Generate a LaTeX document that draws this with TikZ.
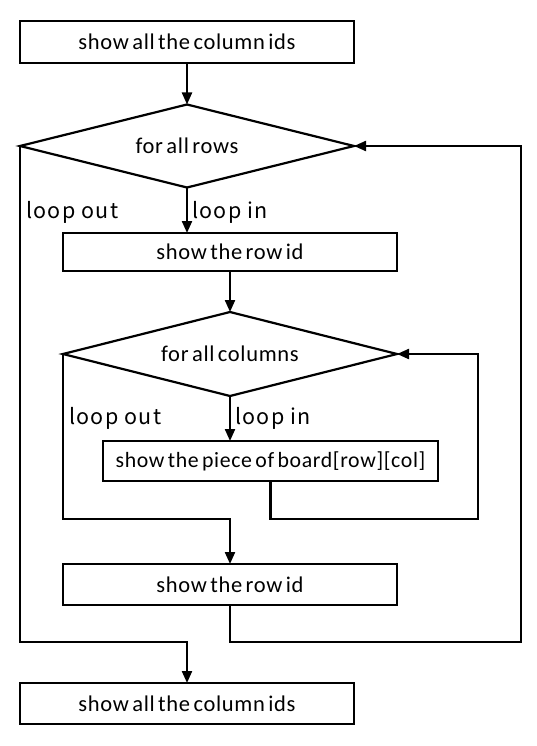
\documentclass[tikz,border=0pt]{standalone}
\usepackage{fontspec}
\setmainfont{Carlito}[LetterSpace=3,WordSpace=0.6]
\newfontfamily\lblfont{Noto Sans CJK JP}[LetterSpace=6]
\usetikzlibrary{shapes.geometric,arrows.meta}
\begin{document}
\begin{tikzpicture}[x=1pt,y=-1pt,
  every node/.style={inner sep=0pt,outer sep=0pt},
  procbox/.style={draw,rectangle,line width=2.2pt,font=\fontsize{22.5}{26}\selectfont},
  decide/.style={draw,diamond,line width=2.2pt,font=\fontsize{22.5}{26}\selectfont},
  lbl/.style={anchor=west,font=\lblfont\fontsize{21.5}{24}\selectfont},
  conn/.style={line width=2.2pt},
  arr/.style={conn,-{Triangle[length=12pt,width=10pt]}}]
\useasboundingbox (0,0) rectangle (537,746);
\fill[white] (0,0) rectangle (537,746);
\node[procbox,minimum width=334pt,minimum height=42pt] (b1) at (187,42) {show all the column ids};
\node[decide,shape aspect=4.02,minimum width=334pt,minimum height=83pt] (d1) at (187,146) {for all rows};
\node[procbox,minimum width=334pt,minimum height=38pt] (b2) at (230,252) {show the row id};
\node[decide,shape aspect=3.98,minimum width=334pt,minimum height=84pt] (d2) at (230,354) {for all columns};
\node[procbox,minimum width=335pt,minimum height=40pt,font=\fontsize{21.8}{26}\selectfont] (b3) at (270.5,461) {show the piece of board[row][col]};
\node[procbox,minimum width=334pt,minimum height=41pt] (b4) at (230,584.5) {show the row id};
\node[procbox,minimum width=334pt,minimum height=41pt] (b5) at (187,703.5) {show all the column ids};
\coordinate (r2) at (478,519);
\coordinate (j2) at (230,519);
\coordinate (r1) at (521,642);
\coordinate (j1) at (187,642);
\draw[arr] (b1.south) -- (d1.north);
\draw[arr] (d1.south) -- (d1.south |- b2.north);
\draw[arr] (b2.south) -- (d2.north);
\draw[arr] (d2.south) -- (d2.south |- b3.north);
\draw[arr] (b3.south) |- (r2) |- (d2.east);
\draw[arr] (d2.west) |- (j2) -- (b4.north);
\draw[arr] (b4.south) |- (r1) |- (d1.east);
\draw[arr] (d1.west) |- (j1) -- (b5.north);
\node[lbl] (lo1) at (26,212) {loop out};
\node[lbl] (li1) at (192,212) {loop in};
\node[lbl] (lo2) at (69,418) {loop out};
\node[lbl] (li2) at (235,418) {loop in};
\end{tikzpicture}
\end{document}
